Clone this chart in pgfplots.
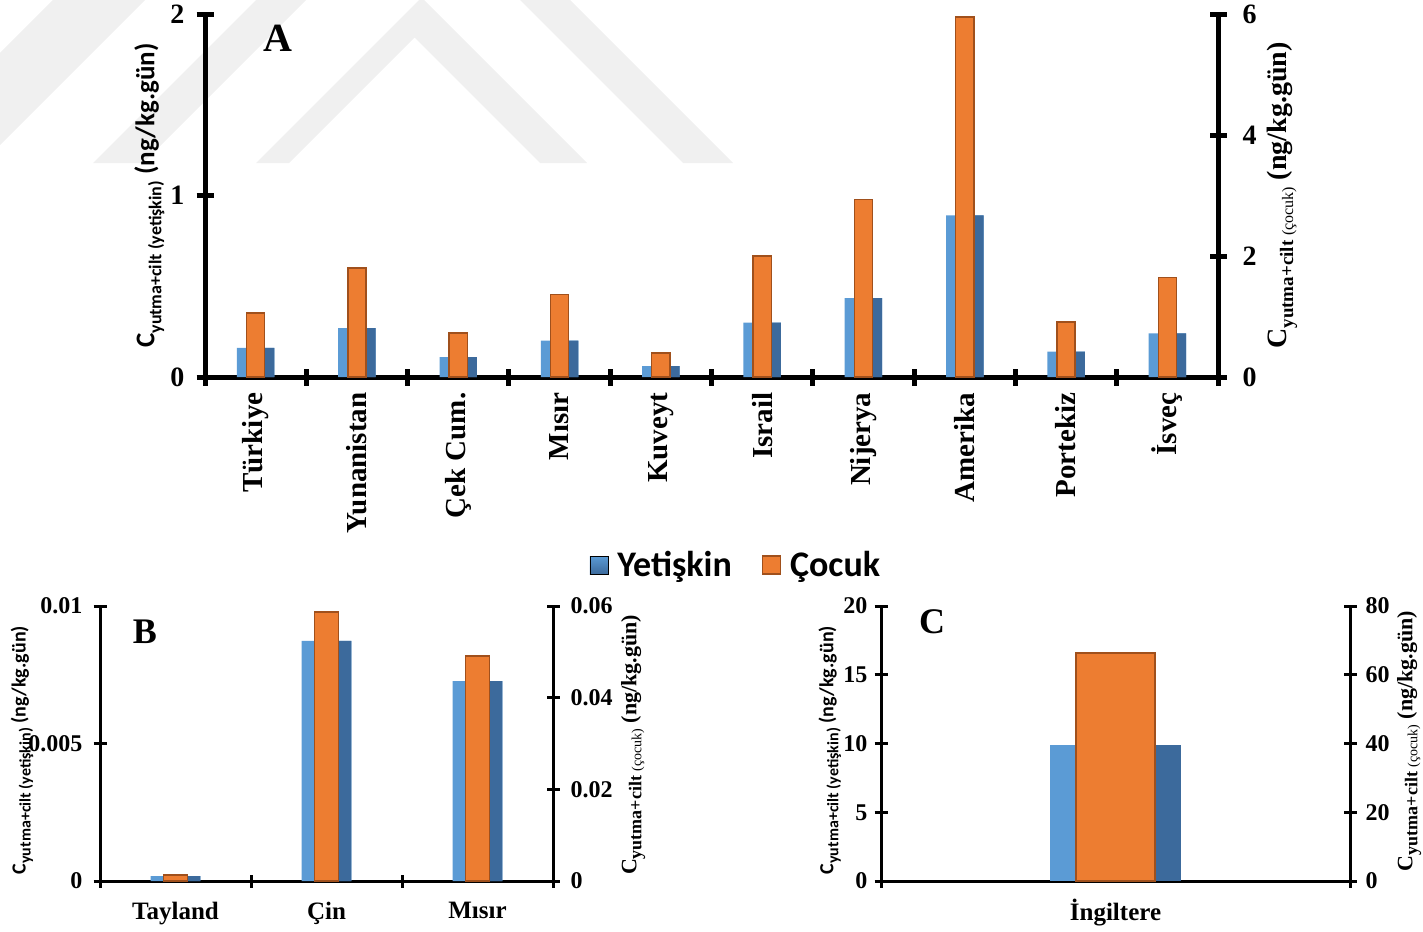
\documentclass[border=0pt]{standalone}
\usepackage{pgfplots}
\pgfplotsset{compat=1.18}
\usepackage{fontspec}
\setmainfont{Liberation Serif}
\newfontfamily\carl{Carlito}

\definecolor{yetL}{RGB}{91,155,213}
\definecolor{yetD}{RGB}{60,106,156}
\definecolor{coc}{RGB}{237,125,49}
\definecolor{cocD}{RGB}{160,80,28}
\definecolor{wm}{RGB}{240,240,240}

\newcommand{\fs}[1]{\fontsize{#1}{#1}\selectfont}

\pgfplotsset{
  base/.style={
    scale only axis, anchor=south west, ymin=0, clip=false,
    axis line style={-, line width=#1},
    tick style={line width=#1, black},
    tick align=center,
    scaled y ticks=false,
    /pgf/number format/assume math mode=true,
  },
  left side/.style={axis x line*=bottom, axis y line*=left,
    major x tick style={draw=none}},
  right side/.style={axis x line=none, axis y line*=right, xtick=\empty},
  % two-tone adult bars: light body, darker right half
  adultL/.style={ybar, bar shift=0pt, bar width=#1, fill=yetL, draw=none, forget plot},
  adultD/.style={ybar, bar width=#1/2, bar shift=#1/4, fill=yetD, draw=none, forget plot},
  child/.style={ybar, bar shift=0pt, bar width=#1, fill=coc, draw=cocD, line width=0.7pt, forget plot},
}

\begin{document}
\begin{tikzpicture}
\useasboundingbox (0,0) rectangle (711.5pt,-465.5pt);

% faint background emblem (nested chevrons)
\fill[wm] (0,-26.5pt) -- (26.5pt,0) -- (72.5pt,0) -- (0,-72.5pt) -- cycle;
\fill[wm] (46.5pt,-81.5pt) -- (128pt,0) -- (153pt,0) -- (71.5pt,-81.5pt) -- cycle;
\fill[wm] (341.5pt,-81.5pt) -- (260pt,0) -- (285pt,0) -- (366.5pt,-81.5pt) -- cycle;
\fill[wm] (128pt,-81.5pt) -- (209.5pt,0) -- (212pt,0) -- (293.5pt,-81.5pt) -- (270pt,-81.5pt)
  -- (207.25pt,-18.75pt) -- (144.5pt,-81.5pt) -- cycle;

% ---------------- Panel A ----------------
\begin{axis}[base=2.5pt, left side,
  at={(102.5pt,-188.5pt)}, width=506.5pt, height=181.5pt,
  xmin=-0.5, xmax=9.5, ymax=2,
  major tick length=8.5pt, minor tick length=8.5pt,
  ytick={0,1,2}, yticklabels={0,1,2},
  xtick={0,...,9},
  xticklabels={Türkiye,Yunanistan,Çek Cum.,Mısır,Kuveyt,Israil,Nijerya,Amerika,Portekiz,İsveç},
  minor xtick={-0.5,0.5,...,9.5},
  xticklabel style={rotate=90, anchor=east, font=\bfseries\fs{14.5}},
  yticklabel style={font=\bfseries\fs{14}, xshift=-2.5pt},
  ylabel={\carl\bfseries\fs{13.5}C\raisebox{-3.5pt}{\fs{9}yutma+cilt (yetişkin)} (ng/kg.gün)},
  every axis y label/.style={at={(axis description cs:-0.055,0.5)}, anchor=center, rotate=90},
  legend style={at={(axis description cs:0.525,-0.518)}, anchor=center, draw=none, fill=none,
    legend columns=2, font=\carl\bfseries\fs{18},
    /tikz/every odd column/.append style={column sep=2.5pt},
    /tikz/every even column/.append style={column sep=13pt}},
]
\addlegendimage{legend image code/.code={\shade[top color=yetL, bottom color=yetD] (0pt,-4.5pt) rectangle (9pt,4.5pt);}}
\addlegendentry{Yetişkin}
\addlegendimage{legend image code/.code={\fill[coc, draw=cocD, line width=0.6pt] (0pt,-4.5pt) rectangle (9pt,4.5pt);}}
\addlegendentry{Çocuk}
\addplot[adultL=0.37] coordinates {(0,0.16) (1,0.27) (2,0.11) (3,0.20) (4,0.06) (5,0.30) (6,0.435) (7,0.89) (8,0.14) (9,0.24)};
\addplot[adultD=0.37] coordinates {(0,0.16) (1,0.27) (2,0.11) (3,0.20) (4,0.06) (5,0.30) (6,0.435) (7,0.89) (8,0.14) (9,0.24)};
\end{axis}

\begin{axis}[base=2.5pt, right side,
  at={(102.5pt,-188.5pt)}, width=506.5pt, height=181.5pt,
  xmin=-0.5, xmax=9.5, ymax=6,
  major tick length=8.5pt,
  ytick={0,2,4,6}, yticklabels={0,2,4,6},
  yticklabel style={font=\bfseries\fs{14}, xshift=4.5pt},
  ylabel={\bfseries\fs{14}C\raisebox{-3.5pt}{\fs{9.5}yutma+cilt \mdseries\fs{8}(çocuk)} (ng/kg.gün)},
  every axis y label/.style={at={(axis description cs:1.063,0.5)}, anchor=center, rotate=90},
]
\addplot[child=0.18] coordinates {(0,1.06) (1,1.80) (2,0.73) (3,1.36) (4,0.40) (5,2.00) (6,2.93) (7,5.95) (8,0.91) (9,1.64)};
\end{axis}
\node[font=\bfseries\fs{20}] at (139pt,-19pt) {A};

% ---------------- Panel B ----------------
\begin{axis}[base=1.5pt, left side,
  at={(50pt,-440.5pt)}, width=226.5pt, height=137.5pt,
  xmin=-0.5, xmax=2.5, ymax=0.01,
  major tick length=6.5pt, minor tick length=6.5pt,
  ytick={0,0.005,0.01}, yticklabels={0,0.005,0.01},
  xtick={0,1,2}, xticklabels={Tayland,Çin,Mısır},
  minor xtick={-0.5,0.5,1.5,2.5},
  xticklabel style={font=\bfseries\fs{12.5}, yshift=-4pt},
  yticklabel style={font=\bfseries\fs{12}, xshift=-2pt},
  ylabel={\carl\bfseries\fs{10}C\raisebox{-2.5pt}{\fs{8}yutma+cilt (yetişkin)} (ng/kg.gün)},
  every axis y label/.style={at={(axis description cs:-0.172,0.476)}, anchor=center, rotate=90},
]
\addplot[adultL=0.33] coordinates {(0,0.00018) (1,0.00873) (2,0.00727)};
\addplot[adultD=0.33] coordinates {(0,0.00018) (1,0.00873) (2,0.00727)};
\end{axis}

\begin{axis}[base=1.5pt, right side,
  at={(50pt,-440.5pt)}, width=226.5pt, height=137.5pt,
  xmin=-0.5, xmax=2.5, ymax=0.06,
  major tick length=6.5pt,
  ytick={0,0.02,0.04,0.06}, yticklabels={0,0.02,0.04,0.06},
  yticklabel style={font=\bfseries\fs{12}, xshift=2pt},
  ylabel={\bfseries\fs{11}C\raisebox{-2.5pt}{\fs{9}yutma+cilt \mdseries\fs{7}(çocuk)} (ng/kg.gün)},
  every axis y label/.style={at={(axis description cs:1.177,0.495)}, anchor=center, rotate=90},
]
\addplot[child=0.16] coordinates {(0,0.0013) (1,0.0587) (2,0.0491)};
\end{axis}
\node[font=\bfseries\fs{18}] at (72.5pt,-316pt) {B};

% ---------------- Panel C ----------------
\begin{axis}[base=1.5pt, left side,
  at={(440.5pt,-440.5pt)}, width=234.5pt, height=137.5pt,
  xmin=-0.5, xmax=0.5, ymax=20,
  major tick length=6.5pt, minor tick length=6.5pt,
  ytick={0,5,10,15,20}, yticklabels={0,5,10,15,20},
  xtick={0}, xticklabels={İngiltere},
  minor xtick={-0.5,0.5},
  xticklabel style={font=\bfseries\fs{12.5}, yshift=-2pt},
  yticklabel style={font=\bfseries\fs{12}},
  ylabel={\carl\bfseries\fs{10}C\raisebox{-2.5pt}{\fs{8}yutma+cilt (yetişkin)} (ng/kg.gün)},
  every axis y label/.style={at={(axis description cs:-0.109,0.476)}, anchor=center, rotate=90},
]
\addplot[adultL=0.281] coordinates {(0,9.9)};
\addplot[adultD=0.281] coordinates {(0,9.9)};
\end{axis}

\begin{axis}[base=1.5pt, right side,
  at={(440.5pt,-440.5pt)}, width=234.5pt, height=137.5pt,
  xmin=-0.5, xmax=0.5, ymax=80,
  major tick length=6.5pt,
  ytick={0,20,40,60,80}, yticklabels={0,20,40,60,80},
  yticklabel style={font=\bfseries\fs{12}, xshift=1pt},
  ylabel={\bfseries\fs{11}C\raisebox{-2.5pt}{\fs{9}yutma+cilt \mdseries\fs{7}(çocuk)} (ng/kg.gün)},
  every axis y label/.style={at={(axis description cs:1.126,0.509)}, anchor=center, rotate=90},
]
\addplot[child=0.168] coordinates {(0,66.3)};
\end{axis}
\node[font=\bfseries\fs{18}] at (466pt,-311pt) {C};

\end{tikzpicture}
\end{document}
